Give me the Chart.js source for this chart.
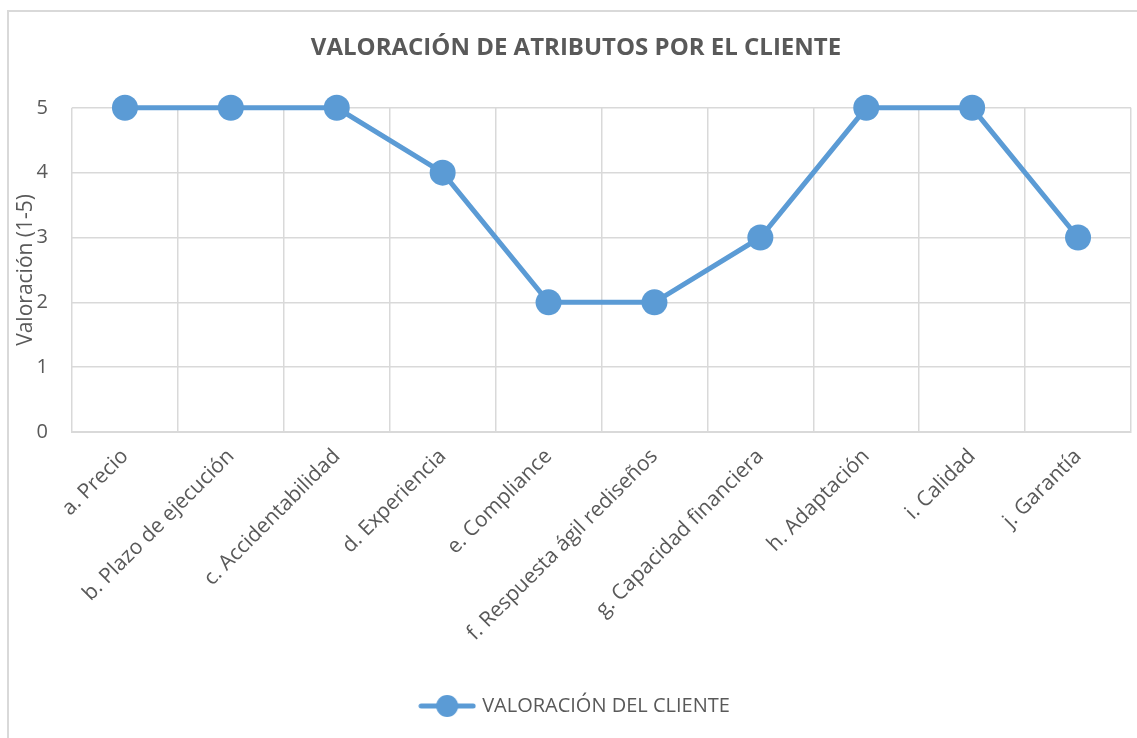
<!DOCTYPE html>
<html>
<head>
<meta charset="utf-8">
<script src="https://cdn.jsdelivr.net/npm/chart.js@4.4.1/dist/chart.umd.min.js"></script>
<style>
  html, body { margin: 0; padding: 0; background: #fff; overflow: hidden; }
  #frame { position: absolute; left: 7px; top: 10px; width: 1140px; height: 740px; border: 2px solid #d9d9d9; box-sizing: border-box; }
  #wrap { position: absolute; left: 0; top: 0; width: 1144px; height: 738px; }
</style>
</head>
<body>
<div id="frame"></div>
<div id="wrap"><canvas id="chart"></canvas></div>
<script>
const categories = [
  "a. Precio", "b. Plazo de ejecución", "c. Accidentabilidad", "d. Experiencia",
  "e. Compliance", "f. Respuesta ágil rediseños", "g. Capacidad financiera",
  "h. Adaptación", "i. Calidad", "j. Garantía"
];
const valoracion = [5, 5, 5, 4, 2, 2, 3, 5, 5, 3];
const yTicks = [0, 1, 2, 3, 4, 5];

const blue = "#5B9BD5";
const textGray = "#595959";
const gridGray = "#d9d9d9";

// legend marker: line with a circle on it
const marker = document.createElement("canvas");
marker.width = 58; marker.height = 26;
const mctx = marker.getContext("2d");
mctx.strokeStyle = blue; mctx.lineWidth = 5; mctx.lineCap = "round";
mctx.beginPath(); mctx.moveTo(3, 13); mctx.lineTo(55, 13); mctx.stroke();
mctx.fillStyle = blue;
mctx.beginPath(); mctx.arc(29, 13, 11, 0, Math.PI * 2); mctx.fill();

Chart.defaults.font.family = "'Open Sans', Lato, sans-serif";
Chart.defaults.color = textGray;

new Chart(document.getElementById("chart"), {
  type: "line",
  data: {
    labels: categories,
    datasets: [{
      label: "VALORACIÓN DEL CLIENTE",
      data: valoracion,
      borderColor: blue,
      backgroundColor: blue,
      borderWidth: 5,
      pointRadius: 13,
      pointHoverRadius: 13,
      pointBorderWidth: 0,
      pointBackgroundColor: blue,
      tension: 0,
      clip: false
    }]
  },
  options: {
    responsive: true,
    maintainAspectRatio: false,
    animation: false,
    layout: { padding: { left: 8, right: 0, top: 0, bottom: 12 } },
    plugins: {
      title: {
        display: true,
        text: "VALORACIÓN DE ATRIBUTOS POR EL CLIENTE",
        color: textGray,
        font: { size: 24, weight: "bold" },
        padding: { top: 34, bottom: 45 }
      },
      legend: {
        position: "bottom",
        labels: {
          usePointStyle: true,
          pointStyleWidth: 50,
          font: { size: 20 },
          color: textGray,
          padding: 10,
          generateLabels: chart => [{
            text: chart.data.datasets[0].label,
            pointStyle: marker,
            fillStyle: blue,
            strokeStyle: blue,
            lineWidth: 0,
            fontColor: textGray,
            datasetIndex: 0
          }]
        }
      },
      tooltip: { enabled: false }
    },
    scales: {
      x: {
        offset: true,
        grid: { offset: true, color: gridGray, lineWidth: 1.5, drawTicks: false },
        border: { display: true, color: gridGray, width: 2 },
        ticks: { maxRotation: 45, minRotation: 45, padding: 12, font: { size: 21 }, color: textGray },
        afterFit: s => { s.height = 254; }
      },
      y: {
        min: 0,
        max: 5,
        afterBuildTicks: s => { s.ticks = yTicks.map(v => ({ value: v })); },
        grid: { color: gridGray, lineWidth: 1.5, drawTicks: false },
        border: { display: false },
        ticks: { padding: 24, font: { size: 20 }, color: textGray },
        title: { display: true, text: "Valoración (1-5)", font: { size: 21 }, color: textGray, padding: { top: 5, bottom: 0 } },
        afterFit: s => { s.width = 64; }
      }
    }
  }
});
</script>
</body>
</html>
